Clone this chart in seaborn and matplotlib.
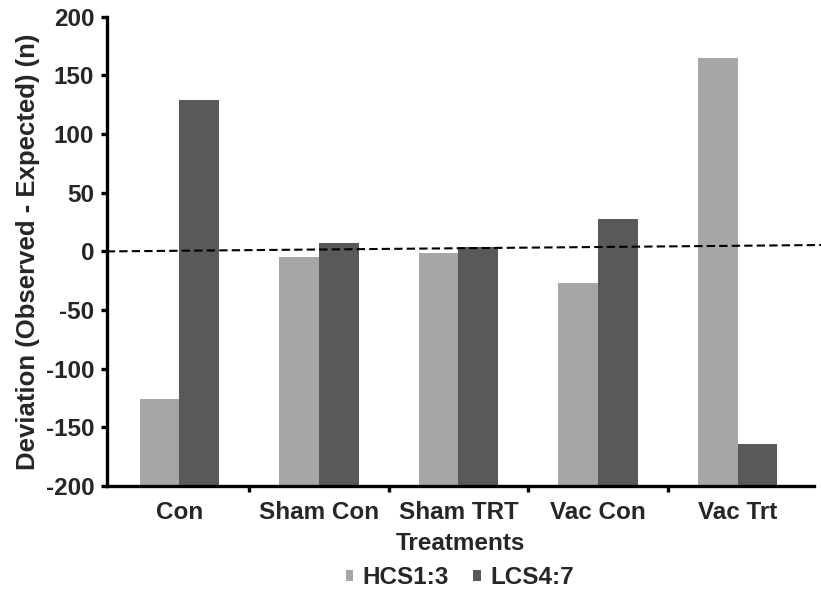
import matplotlib
matplotlib.use('Agg')
import matplotlib.pyplot as plt
import pandas as pd
import seaborn as sns

# 数据
treatments = ['Con', 'Sham Con', 'Sham TRT', 'Vac Con', 'Vac Trt']
hcs_values = [-126, -5, -1, -27, 165]
lcs_values = [129, 7, 4, 28, -164]
series_names = ['HCS1:3', 'LCS4:7']
colors = ['#A6A6A6', '#595959']

# 虚线趋势线 (起点, 终点)
trend_x = [-0.52, 4.65]
trend_y = [0, 5.5]

Y_MIN, Y_MAX = -200, 200

df = pd.DataFrame({
    'Treatment': treatments * 2,
    'Deviation': hcs_values + lcs_values,
    'Series': [series_names[0]] * len(treatments) + [series_names[1]] * len(treatments),
})

sns.set_theme(style='white')
plt.rcParams['font.family'] = ['Liberation Sans', 'DejaVu Sans']
plt.rcParams['font.weight'] = 'bold'
plt.rcParams['axes.unicode_minus'] = False

fig = plt.figure(figsize=(8.21, 6), dpi=100)
ax = fig.add_axes([0.130, 0.19, 0.862, 0.782])

sns.barplot(data=df, x='Treatment', y='Deviation', hue='Series',
            palette=colors, width=0.57, gap=0, linewidth=0, ax=ax, legend=True)

# Excel 风格: 柱子从坐标轴底部 (-200) 开始画
for patch in ax.patches:
    value = patch.get_y() + patch.get_height()
    patch.set_y(Y_MIN)
    patch.set_height(value - Y_MIN)

ax.plot(trend_x, trend_y, color='black', linestyle=(0, (4, 2)), linewidth=1.5, clip_on=False, zorder=5)

ax.set_ylim(Y_MIN, Y_MAX)
ax.set_yticks(range(Y_MIN, Y_MAX + 1, 50))
ax.set_xlim(-0.52, 4.55)

for side in ['top', 'right']:
    ax.spines[side].set_visible(False)
for side in ['left', 'bottom']:
    ax.spines[side].set_linewidth(2.4)
    ax.spines[side].set_color('black')

ax.tick_params(axis='y', which='major', direction='out', length=4, width=2.4,
               labelsize=17.5, pad=5, left=True, color='black')
ax.tick_params(axis='x', which='major', length=0, labelsize=17.5, pad=11)
ax.set_xticks([0.5, 1.5, 2.5, 3.5], minor=True)
ax.tick_params(axis='x', which='minor', direction='out', length=4, width=2.4, bottom=True, color='black')
for lbl in ax.get_xticklabels() + ax.get_yticklabels():
    lbl.set_fontweight('bold')

ax.set_xlabel('Treatments', fontsize=17.5, fontweight='bold')
ax.xaxis.set_label_coords(0.5, -0.098)
ax.set_ylabel('Deviation (Observed - Expected) (n)', fontsize=18.5, fontweight='bold', labelpad=4)

handles, labels = ax.get_legend_handles_labels()
ax.legend(handles, labels, loc='center', bbox_to_anchor=(0.56, 0.037), bbox_transform=fig.transFigure,
          ncol=2, frameon=False, prop={'size': 17.5, 'weight': 'bold'},
          handlelength=0.3, handleheight=0.3, handletextpad=0.4, columnspacing=1.0)

fig.savefig('out.png', dpi=100)
plt.close(fig)
